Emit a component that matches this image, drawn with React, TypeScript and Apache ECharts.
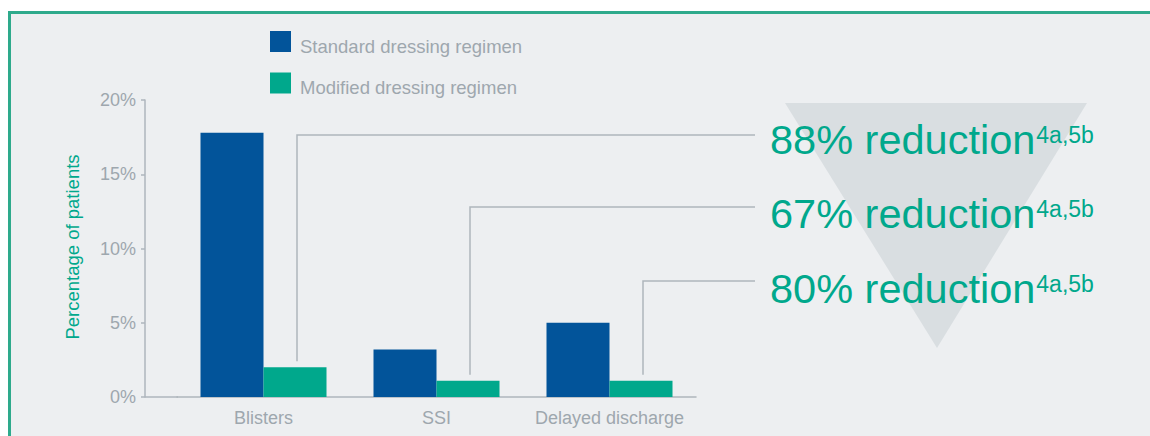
import React, { useEffect, useRef } from "react";
import * as echarts from "echarts";

const categories = ["Blisters", "SSI", "Delayed discharge"];
const seriesNames = ["Standard dressing regimen", "Modified dressing regimen"];
const standardValues = [17.8, 3.2, 5.0];
const modifiedValues = [2.0, 1.1, 1.1];
const reductionLabels = ["88% reduction", "67% reduction", "80% reduction"];
const referenceMark = "4a,5b";
const yAxisTitle = "Percentage of patients";

const NAVY = "#02549A";
const TEAL = "#00A88C";
const GRID_GRAY = "#AEB6BC";
const TEXT_GRAY = "#9EA7AE";
const FONT = "'Liberation Sans', Arial, Helvetica, sans-serif";

const BAR_W = 63;
const rowY = [135, 207, 281];
const textCy = [139, 213, 288];
const textX = 770;
const lineEndX = 755;
const BIG = 41.5;
const SUP = 23;

function measure(text: string, size: number) {
  const c = document.createElement("canvas");
  const ctx = c.getContext("2d")!;
  ctx.font = `${size}px 'Liberation Sans', Arial, Helvetica, sans-serif`;
  return ctx.measureText(text).width;
}

export default function App() {
  const ref = useRef<HTMLDivElement>(null);
  useEffect(() => {
    if (!ref.current) return;
    const chart = echarts.init(ref.current, undefined, { renderer: "svg" });
    const base: any = {
      animation: false,
      backgroundColor: "#ffffff",
      textStyle: { fontFamily: FONT },
      legend: {
        orient: "vertical",
        left: 270,
        top: 31,
        itemWidth: 21,
        itemHeight: 21,
        itemGap: 17,
        padding: 0,
        icon: "rect",
        data: seriesNames,
        formatter: "{a|{name}}",
        textStyle: {
          fontSize: 18.5,
          color: TEXT_GRAY,
          fontFamily: FONT,
          rich: {
            a: {
              fontSize: 18.5,
              color: TEXT_GRAY,
              fontFamily: FONT,
              lineHeight: 28,
              verticalAlign: "bottom",
              padding: [0, 0, 0, 4],
            },
          },
        },
      },
      grid: { left: 177, width: 519, top: 100, bottom: 39, containLabel: false },
      xAxis: {
        type: "category",
        data: categories,
        axisLine: { show: true, lineStyle: { color: GRID_GRAY, width: 1.5 } },
        axisTick: { show: false },
        axisLabel: { interval: 0, fontSize: 18, color: TEXT_GRAY, margin: 12, fontFamily: FONT },
      },
      yAxis: {
        type: "value",
        min: 0,
        max: 20,
        interval: 5,
        offset: 32,
        axisLine: { show: true, lineStyle: { color: GRID_GRAY, width: 1.5 } },
        axisTick: { show: true, length: 4, lineStyle: { color: GRID_GRAY, width: 1.5 } },
        axisLabel: { formatter: "{value}%", fontSize: 18, color: TEXT_GRAY, margin: 9, fontFamily: FONT },
        splitLine: { show: false },
      },
      series: [
        { name: seriesNames[0], type: "bar", data: standardValues, barWidth: BAR_W, barGap: "0%", itemStyle: { color: NAVY } },
        { name: seriesNames[1], type: "bar", data: modifiedValues, barWidth: BAR_W, barGap: "0%", itemStyle: { color: TEAL } },
      ],
    };
    chart.setOption(base);

    const elements: any[] = [
      {
        type: "rect",
        z: -100,
        shape: { x: 9.5, y: 12.5, width: 1300, height: 600 },
        style: { fill: "#EDEFF1", stroke: "#2EAA8C", lineWidth: 3 },
        silent: true,
      },
      {
        type: "polygon",
        z: -50,
        shape: { points: [[785, 103], [1087, 103], [937, 348]] },
        style: { fill: "#D9DEE1" },
        silent: true,
      },
      {
        type: "text",
        x: 72,
        y: 247,
        rotation: Math.PI / 2,
        style: { text: yAxisTitle, fill: TEAL, fontSize: 18.5, fontFamily: FONT, align: "center", verticalAlign: "middle" },
      },
      {
        type: "line",
        shape: { x1: 145, y1: 397, x2: 178, y2: 397 },
        style: { stroke: GRID_GRAY, lineWidth: 1.5 },
      },
    ];
    modifiedValues.forEach((v, i) => {
      const p = chart.convertToPixel({ xAxisIndex: 0, yAxisIndex: 0 }, [i, v]) as number[];
      const lx = p[0] + BAR_W / 2 + 2;
      elements.push({
        type: "polyline",
        shape: { points: [[lx, p[1] - 6], [lx, rowY[i]], [lineEndX, rowY[i]]] },
        style: { stroke: GRID_GRAY, lineWidth: 1.5, fill: null },
      });
      const w = measure(reductionLabels[i], BIG);
      elements.push({
        type: "text",
        x: textX,
        y: textCy[i],
        style: { text: reductionLabels[i], fill: TEAL, fontSize: BIG, fontFamily: FONT, align: "left", verticalAlign: "middle" },
      });
      elements.push({
        type: "text",
        x: textX + w + 1,
        y: textCy[i] - 4,
        style: { text: referenceMark, fill: TEAL, fontSize: SUP, fontFamily: FONT, align: "left", verticalAlign: "middle" },
      });
    });
    chart.setOption({ graphic: { elements } });
    return () => chart.dispose();
  }, []);
  return (
    <div style={{ position: "fixed", left: 0, top: 0, width: 1150, height: 436, background: "#fff" }}>
      <div ref={ref} style={{ width: 1150, height: 436 }} />
    </div>
  );
}
